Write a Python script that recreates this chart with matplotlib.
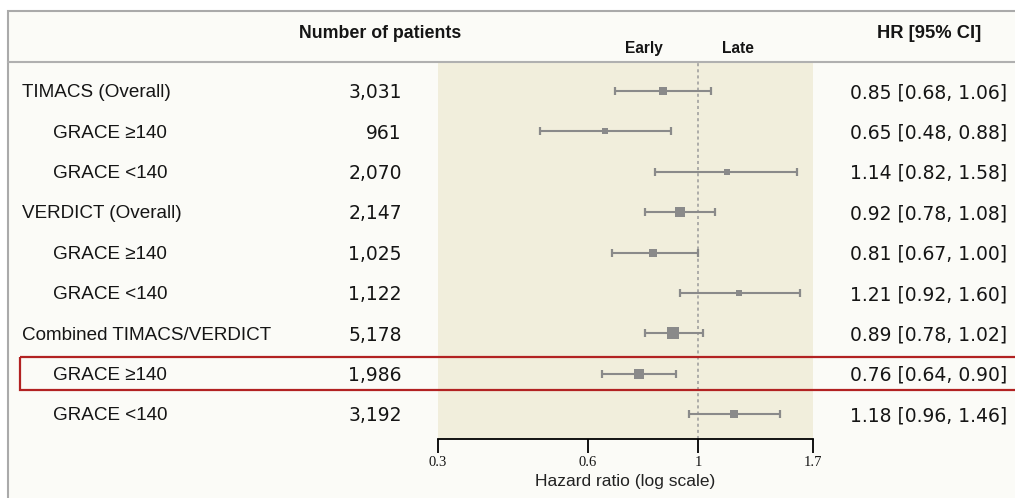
import numpy as np
import matplotlib
matplotlib.use('Agg')
import matplotlib.pyplot as plt
import matplotlib.transforms as mtransforms
from matplotlib.patches import Rectangle
from matplotlib.lines import Line2D
from matplotlib.ticker import NullLocator

# data
labels = ['TIMACS (Overall)', 'GRACE \u2265140', 'GRACE <140',
          'VERDICT (Overall)', 'GRACE \u2265140', 'GRACE <140',
          'Combined TIMACS/VERDICT', 'GRACE \u2265140', 'GRACE <140']
indent = [False, True, True, False, True, True, False, True, True]
patients = [3031, 961, 2070, 2147, 1025, 1122, 5178, 1986, 3192]
hr = [0.85, 0.65, 1.14, 0.92, 0.81, 1.21, 0.89, 0.76, 1.18]
ci_lo = [0.68, 0.48, 0.82, 0.78, 0.67, 0.92, 0.78, 0.64, 0.96]
ci_hi = [1.06, 0.88, 1.58, 1.08, 1.00, 1.60, 1.02, 0.90, 1.46]
highlight_row = 7
xticks = [0.3, 0.6, 1, 1.7]
xtick_labels = ['0.3', '0.6', '1', '1.7']

W, H = 1015, 498
sans = ['Liberation Sans', 'DejaVu Sans']
grey = '#8a8a8a'
ink = '#151515'

fig = plt.figure(figsize=(W / 100, H / 100), dpi=100, facecolor='white')

# background axes in pixel coordinates
bg = fig.add_axes([0, 0, 1, 1], zorder=0)
bg.set_xlim(0, W)
bg.set_ylim(H, 0)
bg.axis('off')
bg.add_patch(Rectangle((8, 11), W, H, facecolor='#fbfbf7',
                       edgecolor='#aaaaaa', lw=1.5))

# forest panel
ax = fig.add_axes([438 / W, (H - 439) / H, (813 - 438) / W, (439 - 62) / H],
                  zorder=1)
ax.set_facecolor('#f1eedc')
ax.set_xscale('log')
ax.set_xlim(0.3, 1.7)
ax.set_ylim(8.614, -0.718)

rows = np.arange(len(labels))
hr_a = np.array(hr)
lo_a = np.array(ci_lo)
hi_a = np.array(ci_hi)
se = (np.log(hi_a) - np.log(lo_a)) / (2 * 1.96)
box_px = 0.88 / se

ax.axvline(1, color='#9a9a9a', ls=(0, (2, 2)), lw=1.1, zorder=1)
for i in rows:
    ax.errorbar(hr_a[i], i, xerr=[[hr_a[i] - lo_a[i]], [hi_a[i] - hr_a[i]]],
                fmt='none', ecolor=grey, elinewidth=1.5, capsize=3,
                capthick=1.6, zorder=2)
    ax.plot(hr_a[i], i, 's', ms=box_px[i] * 0.72, color=grey, mec=grey,
            mew=0, zorder=3)

ax.set_xticks(xticks)
ax.set_xticklabels(xtick_labels, family=['Liberation Serif', 'DejaVu Serif'])
ax.xaxis.set_minor_locator(NullLocator())
ax.set_yticks([])
for s in ['left', 'right', 'top']:
    ax.spines[s].set_visible(False)
ax.spines['bottom'].set_linewidth(1.3)
ax.tick_params(axis='x', direction='out', length=10, width=1.3,
               labelsize=10.5, pad=2, labelcolor=ink)
ax.set_xlabel('Hazard ratio (log scale)', fontsize=12.5, family=sans,
              labelpad=4, color='#222222')

# header
fig.add_artist(Line2D([8, W], [62, 62], transform=bg.transData,
                      color='#b0b0b0', lw=1.5, zorder=3))
bg.text(380, 33, 'Number of patients', ha='center', va='center',
        fontsize=12.8, fontweight='bold', family=sans, color=ink)
bg.text(929, 33, 'HR [95% CI]', ha='center', va='center',
        fontsize=13.2, fontweight='bold', family=sans, color=ink)
bg.text(644, 48, 'Early', ha='center', va='center',
        fontsize=11.2, fontweight='bold', family=sans, color=ink)
bg.text(738, 48, 'Late', ha='center', va='center',
        fontsize=11.2, fontweight='bold', family=sans, color=ink)

# table text, rows tied to the forest axes
trans = mtransforms.blended_transform_factory(bg.transData, ax.transData)
for i in rows:
    x0 = 53 if indent[i] else 22
    bg.text(x0, i + 0.04, labels[i], transform=trans, ha='left', va='center',
            fontsize=13.6, family=sans, color=ink)
    bg.text(402, i + 0.04, f'{patients[i]:,}', transform=trans, ha='right',
            va='center', fontsize=13.5, family=['DejaVu Sans'], color=ink)
    bg.text(1007, i + 0.04, f'{hr[i]:.2f} [{ci_lo[i]:.2f}, {ci_hi[i]:.2f}]',
            transform=trans, ha='right', va='center', fontsize=13.5,
            family=['DejaVu Sans'], color=ink)

# highlighted row
fig.add_artist(Rectangle((20, highlight_row - 0.41), W, 0.82, transform=trans,
                         facecolor='none', edgecolor='#b22222', lw=1.6,
                         zorder=4))

fig.savefig('out.png', dpi=100, facecolor=fig.get_facecolor())
